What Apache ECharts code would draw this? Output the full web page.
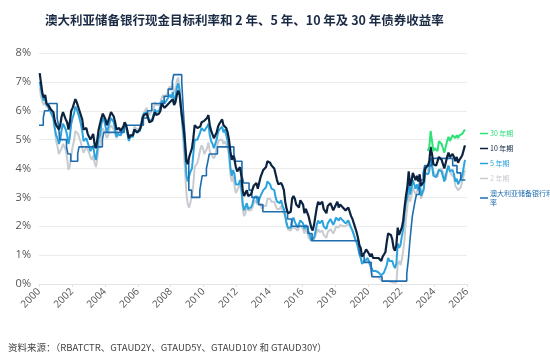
<!DOCTYPE html>
<html>
<head>
<meta charset="utf-8">
<script src="https://cdn.jsdelivr.net/npm/echarts@6/dist/echarts.min.js"></script>
<style>
  html, body { margin: 0; padding: 0; background: #fff; }
  #chart { width: 550px; height: 354px; }
</style>
</head>
<body>
<div id="chart"></div>
<script>
// monthly series, first value = Jan 2000
const y10 = [
  7.30, 6.95, 6.60, 6.45, 6.55, 6.25, 6.20, 6.15, 6.05, 6.00, 5.95, 5.65,
  5.50, 5.45, 5.35, 5.50, 5.80, 5.95, 5.90, 5.70, 5.60, 5.35, 5.60, 6.00,
  6.10, 6.25, 6.40, 6.30, 6.25, 6.00, 5.85, 5.70, 5.35, 5.40, 5.40, 5.20,
  5.10, 5.00, 5.05, 5.20, 4.85, 4.70, 5.00, 5.35, 5.40, 5.75, 5.90, 5.80,
  5.70, 5.50, 5.55, 5.80, 5.95, 5.95, 5.80, 5.60, 5.35, 5.40, 5.40, 5.30,
  5.35, 5.45, 5.60, 5.50, 5.30, 5.05, 5.15, 5.10, 5.15, 5.35, 5.40, 5.25,
  5.25, 5.35, 5.50, 5.75, 5.85, 5.80, 5.90, 5.75, 5.60, 5.65, 5.65, 5.65,
  5.95, 5.85, 5.80, 5.90, 6.00, 6.25, 6.25, 6.10, 6.05, 6.20, 6.20, 6.30,
  6.25, 6.40, 6.20, 6.30, 6.55, 6.70, 6.55, 6.10, 5.70, 5.40, 4.90, 4.25,
  4.15, 4.40, 4.45, 4.70, 5.05, 5.50, 5.45, 5.40, 5.35, 5.45, 5.60, 5.60,
  5.65, 5.60, 5.75, 5.85, 5.50, 5.30, 5.25, 5.05, 5.00, 5.25, 5.45, 5.55,
  5.55, 5.70, 5.50, 5.55, 5.40, 5.25, 5.00, 4.60, 4.30, 4.45, 4.30, 4.05,
  3.90, 3.95, 4.05, 3.75, 3.25, 3.05, 3.05, 3.25, 3.05, 3.10, 3.10, 3.25,
  3.40, 3.45, 3.50, 3.30, 3.35, 3.70, 3.75, 3.95, 3.95, 4.05, 4.25, 4.30,
  4.20, 4.10, 4.10, 4.00, 3.80, 3.60, 3.45, 3.40, 3.50, 3.40, 3.25, 2.85,
  2.60, 2.45, 2.40, 2.50, 2.95, 3.05, 2.95, 2.75, 2.70, 2.65, 2.90, 2.90,
  2.75, 2.45, 2.60, 2.55, 2.35, 2.15, 1.95, 1.85, 2.05, 2.35, 2.65, 2.85,
  2.75, 2.80, 2.85, 2.60, 2.55, 2.45, 2.70, 2.70, 2.80, 2.75, 2.55, 2.60,
  2.75, 2.85, 2.65, 2.75, 2.75, 2.65, 2.65, 2.55, 2.60, 2.65, 2.60, 2.35,
  2.25, 2.10, 1.95, 1.80, 1.60, 1.35, 1.25, 0.95, 1.00, 1.10, 1.20, 1.20,
  1.05, 0.95, 1.05, 0.90, 0.95, 0.90, 0.90, 0.90, 0.85, 0.80, 0.95, 1.00,
  1.10, 1.45, 1.75, 1.75, 1.70, 1.55, 1.25, 1.15, 1.35, 1.95, 1.70, 1.65,
  1.95, 2.20, 2.65, 3.05, 3.35, 3.90, 3.40, 3.55, 3.85, 3.85, 3.60, 3.75,
  3.55, 3.80, 3.40, 3.35, 3.55, 4.00, 4.00, 4.10, 4.25, 4.75, 4.50, 4.15,
  4.20, 4.10, 4.05, 4.40, 4.35, 4.30, 4.30, 4.00, 3.95, 4.40, 4.55, 4.40,
  4.45, 4.50, 4.40, 4.25, 4.40, 4.20, 4.30, 4.30, 4.45, 4.40, 4.80
];
const y5 = [
  7.00, 6.75, 6.50, 6.35, 6.45, 6.20, 6.15, 6.10, 5.95, 5.85, 5.75, 5.40,
  5.15, 5.05, 4.85, 5.00, 5.35, 5.55, 5.55, 5.35, 5.15, 4.85, 5.10, 5.55,
  5.75, 5.90, 6.15, 6.05, 6.00, 5.75, 5.55, 5.30, 4.95, 5.00, 5.05, 4.90,
  4.75, 4.60, 4.60, 4.80, 4.45, 4.30, 4.65, 5.05, 5.15, 5.55, 5.75, 5.65,
  5.45, 5.25, 5.30, 5.60, 5.75, 5.75, 5.60, 5.35, 5.10, 5.20, 5.25, 5.15,
  5.25, 5.40, 5.60, 5.45, 5.20, 4.95, 5.10, 5.05, 5.10, 5.35, 5.40, 5.25,
  5.20, 5.30, 5.45, 5.75, 5.90, 5.85, 5.95, 5.80, 5.65, 5.70, 5.70, 5.75,
  6.05, 5.95, 5.90, 6.00, 6.15, 6.35, 6.40, 6.25, 6.20, 6.40, 6.45, 6.55,
  6.45, 6.65, 6.35, 6.45, 6.80, 6.95, 6.70, 6.10, 5.60, 5.10, 4.50, 3.75,
  3.55, 3.75, 3.90, 4.00, 4.50, 5.00, 4.95, 5.00, 5.05, 5.25, 5.40, 5.35,
  5.30, 5.25, 5.45, 5.55, 5.15, 4.95, 4.85, 4.70, 4.70, 5.00, 5.25, 5.35,
  5.35, 5.45, 5.25, 5.35, 5.15, 4.95, 4.60, 4.05, 3.75, 3.95, 3.80, 3.45,
  3.40, 3.45, 3.60, 3.35, 2.80, 2.55, 2.55, 2.80, 2.60, 2.65, 2.65, 2.75,
  2.95, 3.00, 3.05, 2.80, 2.85, 3.05, 3.00, 3.25, 3.25, 3.35, 3.55, 3.55,
  3.45, 3.30, 3.30, 3.25, 3.00, 2.85, 2.80, 2.80, 2.90, 2.70, 2.60, 2.35,
  2.10, 1.95, 1.95, 1.95, 2.20, 2.30, 2.15, 2.05, 1.95, 1.95, 2.20, 2.25,
  2.10, 1.90, 2.05, 1.95, 1.80, 1.70, 1.50, 1.45, 1.60, 1.80, 2.05, 2.20,
  2.10, 2.15, 2.20, 2.00, 1.95, 1.90, 2.10, 2.10, 2.25, 2.20, 2.05, 2.15,
  2.30, 2.35, 2.20, 2.30, 2.30, 2.20, 2.20, 2.10, 2.15, 2.20, 2.15, 1.95,
  1.85, 1.70, 1.55, 1.45, 1.30, 1.05, 0.90, 0.70, 0.70, 0.80, 0.85, 0.90,
  0.80, 0.65, 0.70, 0.45, 0.45, 0.45, 0.40, 0.40, 0.35, 0.30, 0.35, 0.40,
  0.45, 0.65, 0.90, 0.80, 0.80, 0.80, 0.65, 0.55, 0.70, 1.40, 1.25, 1.35,
  1.65, 1.90, 2.45, 2.85, 3.00, 3.70, 3.10, 3.30, 3.60, 3.60, 3.30, 3.45,
  3.25, 3.50, 3.05, 3.05, 3.30, 3.85, 3.80, 3.80, 3.90, 4.35, 4.10, 3.75,
  3.75, 3.70, 3.65, 3.95, 3.90, 3.90, 3.90, 3.55, 3.50, 3.95, 4.10, 3.90,
  3.95, 3.95, 3.80, 3.55, 3.65, 3.45, 3.55, 3.55, 3.75, 3.80, 4.30
];
const y2 = [
  6.80, 6.50, 6.30, 6.20, 6.35, 6.15, 6.10, 6.05, 5.95, 5.85, 5.70, 5.35,
  4.95, 4.75, 4.50, 4.45, 4.70, 4.85, 4.85, 4.65, 4.35, 3.95, 4.10, 4.45,
  4.75, 4.95, 5.30, 5.25, 5.20, 5.05, 4.90, 4.70, 4.55, 4.60, 4.75, 4.70,
  4.55, 4.40, 4.30, 4.45, 4.20, 4.05, 4.35, 4.70, 4.85, 5.25, 5.40, 5.35,
  5.20, 5.05, 5.15, 5.40, 5.50, 5.45, 5.35, 5.20, 5.05, 5.15, 5.20, 5.15,
  5.25, 5.40, 5.60, 5.45, 5.20, 5.00, 5.15, 5.10, 5.20, 5.45, 5.50, 5.35,
  5.30, 5.40, 5.55, 5.85, 5.95, 5.95, 6.10, 5.95, 5.85, 5.95, 6.00, 6.05,
  6.30, 6.20, 6.15, 6.20, 6.30, 6.45, 6.55, 6.45, 6.40, 6.60, 6.75, 6.85,
  6.70, 6.95, 6.60, 6.70, 7.05, 7.15, 6.80, 6.10, 5.45, 4.70, 3.90, 3.10,
  2.75, 2.65, 2.85, 3.05, 3.45, 4.05, 4.05, 4.20, 4.40, 4.65, 4.80, 4.70,
  4.50, 4.50, 4.70, 4.90, 4.60, 4.50, 4.45, 4.35, 4.45, 4.75, 4.90, 5.00,
  4.95, 5.00, 4.85, 4.95, 4.85, 4.70, 4.45, 3.80, 3.55, 3.75, 3.40, 3.15,
  3.20, 3.35, 3.45, 3.25, 2.60, 2.35, 2.45, 2.75, 2.55, 2.55, 2.55, 2.65,
  2.80, 2.90, 2.95, 2.75, 2.70, 2.75, 2.60, 2.70, 2.65, 2.70, 2.95, 2.90,
  2.95, 2.85, 2.90, 2.85, 2.70, 2.60, 2.60, 2.60, 2.70, 2.55, 2.55, 2.35,
  2.05, 1.90, 1.85, 1.85, 1.95, 2.00, 1.95, 1.90, 1.85, 1.85, 2.05, 2.05,
  1.90, 1.75, 1.90, 1.80, 1.60, 1.55, 1.50, 1.45, 1.55, 1.65, 1.80, 1.90,
  1.80, 1.80, 1.85, 1.70, 1.65, 1.60, 1.80, 1.80, 1.90, 1.85, 1.75, 1.85,
  2.00, 2.05, 1.95, 2.05, 2.05, 2.00, 2.05, 2.00, 2.05, 2.10, 2.05, 1.95,
  1.85, 1.75, 1.55, 1.45, 1.25, 1.05, 0.95, 0.75, 0.75, 0.75, 0.80, 0.85,
  0.75, 0.60, 0.40, 0.25, 0.20, 0.25, 0.25, 0.25, 0.18, 0.15, 0.10, 0.10,
  0.10, 0.10, 0.10, 0.08, 0.08, 0.06, 0.05, 0.05, 0.05, 0.70, 0.80, 0.65,
  0.85, 1.15, 1.55, 2.25, 2.65, 3.15, 2.85, 3.05, 3.35, 3.40, 3.10, 3.20,
  3.15, 3.55, 2.95, 2.90, 3.25, 4.10, 4.05, 3.90, 3.95, 4.35, 4.30, 3.90,
  3.80, 3.75, 3.70, 3.95, 3.95, 4.00, 4.05, 3.70, 3.60, 3.95, 4.10, 3.90,
  3.80, 3.85, 3.70, 3.40, 3.35, 3.25, 3.30, 3.35, 3.55, 3.50, 3.95
];
// 30-year series starts Aug 2023
const y30 = [
  4.60, 4.75, 5.30, 4.95, 4.60,
  4.70, 4.65, 4.60, 4.95, 4.90, 4.85, 4.85, 4.55, 4.55, 4.95, 5.10, 4.95,
  5.05, 5.15, 5.10, 5.05, 5.15, 5.05, 5.15, 5.15, 5.20, 5.20, 5.35
];
// RBA cash rate target: change dates (decimal year) and new rate
const cashDates = [
  2000.0, 2000.26, 2000.34, 2000.59, 2001.1, 2001.18, 2001.26, 2001.67, 2001.76, 2001.93,
  2002.35, 2002.43, 2003.85, 2003.93, 2005.17, 2006.34, 2006.59, 2006.85, 2007.6, 2007.85,
  2008.1, 2008.18, 2008.67, 2008.77, 2008.85, 2008.92, 2009.1, 2009.27, 2009.77, 2009.84,
  2009.92, 2010.17, 2010.26, 2010.34, 2010.84, 2011.84, 2011.93, 2012.33, 2012.43, 2012.76,
  2012.93, 2013.35, 2013.6, 2015.1, 2015.35, 2016.34, 2016.59, 2019.43, 2019.51, 2019.75,
  2020.18, 2020.22, 2020.84, 2022.34, 2022.44, 2022.51, 2022.59, 2022.68, 2022.76, 2022.84,
  2022.93, 2023.1, 2023.18, 2023.34, 2023.43, 2023.85, 2025.13, 2025.39, 2025.62, 2025.9
];
const cashRates = [
  5.5, 5.75, 6.0, 6.25, 5.75, 5.5, 5.0, 4.75, 4.5, 4.25,
  4.5, 4.75, 5.0, 5.25, 5.5, 5.75, 6.0, 6.25, 6.5, 6.75,
  7.0, 7.25, 7.0, 6.0, 5.25, 4.25, 3.25, 3.0, 3.25, 3.5,
  3.75, 4.0, 4.25, 4.5, 4.75, 4.5, 4.25, 3.75, 3.5, 3.25,
  3.0, 2.75, 2.5, 2.25, 2.0, 1.75, 1.5, 1.25, 1.0, 0.75,
  0.5, 0.25, 0.1, 0.35, 0.85, 1.35, 1.85, 2.35, 2.6, 2.85,
  3.1, 3.35, 3.6, 3.85, 4.1, 4.35, 4.1, 3.85, 3.6, 3.6
];
const seriesNames = ["30 年期", "10 年期", "5 年期", "2 年期", "澳大利亚储备银行利率"];
const colors = ["#2ee27a", "#0c2340", "#2aa3de", "#c8cbcf", "#1e6db0"];

function monthly(startYear, startMonth, values) {
  return values.map(function (v, i) {
    return [startYear + (startMonth - 1 + i + 0.5) / 12, v];
  });
}

const chart = echarts.init(document.getElementById("chart"));
const labelFont = "'Open Sans', 'Noto Sans CJK SC', sans-serif";

chart.setOption({
  animation: false,
  title: [
    {
      text: "澳大利亚储备银行现金目标利率和 2 年、5 年、10 年及 30 年债券收益率",
      left: 40,
      top: 9,
      textStyle: { fontSize: 12.5, fontWeight: "bold", color: "#1b2b45", fontFamily: "'Noto Sans CJK SC', sans-serif" },
    },
    {
      text: "资料来源：（RBATCTR、GTAUD2Y、GTAUD5Y、GTAUD10Y 和 GTAUD30Y）",
      left: 3,
      top: 338,
      textStyle: { fontSize: 9.5, fontWeight: "normal", color: "#444", fontFamily: "'Noto Sans CJK SC', sans-serif" },
    },
  ],
  legend: {
    orient: "vertical",
    left: 475,
    top: 124,
    icon: "rect",
    itemWidth: 8,
    itemHeight: 1.5,
    itemGap: 6,
    textStyle: { fontSize: 7, width: 64, overflow: "break", lineHeight: 9, fontFamily: "'Noto Sans CJK SC', sans-serif", padding: [0, 0, 0, -3] },
    data: seriesNames.map(function (n, i) {
      return { name: n, textStyle: { color: colors[i] } };
    }),
  },
  grid: { left: 39, right: 83, top: 53, bottom: 70 },
  xAxis: {
    type: "value",
    min: 2000,
    max: 2026,
    interval: 2,
    axisLine: { lineStyle: { color: "#e3e3e3" } },
    axisTick: { show: true, length: 3, lineStyle: { color: "#e3e3e3" } },
    splitLine: { show: false },
    axisLabel: {
      rotate: 45,
      color: "#555",
      fontSize: 10,
      fontFamily: labelFont,
      margin: 6,
      formatter: function (v) { return String(v); },
    },
  },
  yAxis: {
    type: "value",
    min: 0,
    max: 8,
    interval: 1,
    axisLine: { show: false },
    axisTick: { show: false },
    splitLine: { lineStyle: { color: "#ebebeb" } },
    axisLabel: { color: "#555", fontSize: 11, fontFamily: labelFont, margin: 8, formatter: "{value}%" },
  },
  series: [
    { name: seriesNames[3], type: "line", showSymbol: false, z: 2, data: monthly(2000, 1, y2), lineStyle: { color: colors[3], width: 2 }, itemStyle: { color: colors[3] } },
    { name: seriesNames[2], type: "line", showSymbol: false, z: 3, data: monthly(2000, 1, y5), lineStyle: { color: colors[2], width: 2 }, itemStyle: { color: colors[2] } },
    { name: seriesNames[4], type: "line", showSymbol: false, z: 4, step: "end", data: cashDates.map(function (d, i) { return [d, cashRates[i]]; }), lineStyle: { color: colors[4], width: 1.6 }, itemStyle: { color: colors[4] } },
    { name: seriesNames[1], type: "line", showSymbol: false, z: 5, data: monthly(2000, 1, y10), lineStyle: { color: colors[1], width: 2.2 }, itemStyle: { color: colors[1] } },
    { name: seriesNames[0], type: "line", showSymbol: false, z: 6, data: monthly(2023, 8, y30), lineStyle: { color: colors[0], width: 2 }, itemStyle: { color: colors[0] } },
  ],
});
</script>
</body>
</html>
